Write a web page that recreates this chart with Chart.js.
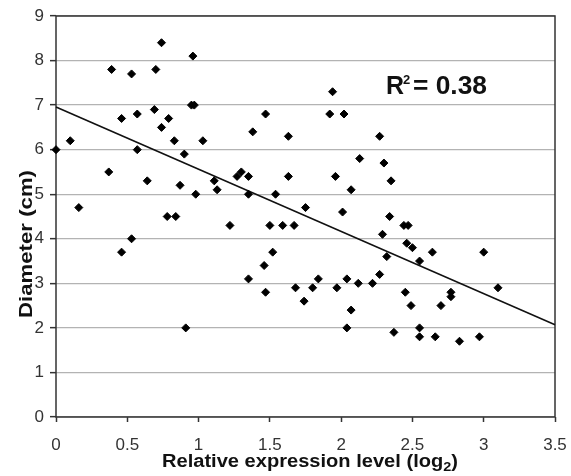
<!DOCTYPE html>
<html>
<head>
<meta charset="utf-8">
<script src="https://cdn.jsdelivr.net/npm/chart.js@4/dist/chart.umd.min.js"></script>
<style>
html,body{margin:0;padding:0;background:#fff;}
#c{display:block;}
</style>
</head>
<body>
<canvas id="c" width="571" height="476" style="width:571px;height:476px"></canvas>
<script>
const xValues = [0,0.1,0.16,0.37,0.39,0.46,0.46,0.53,0.53,0.57,0.57,0.64,0.69,0.70,0.74,0.74,0.78,0.79,0.83,0.84,0.87,0.90,0.91,0.96,0.95,0.97,0.98,1.03,1.11,1.13,1.22,1.27,1.30,1.35,1.35,1.35,1.38,1.46,1.47,1.47,1.50,1.52,1.54,1.59,1.63,1.63,1.67,1.68,1.74,1.75,1.80,1.84,1.92,1.94,1.96,1.97,2.01,2.02,2.04,2.04,2.07,2.07,2.12,2.13,2.22,2.27,2.27,2.29,2.30,2.32,2.34,2.35,2.37,2.44,2.47,2.45,2.46,2.50,2.49,2.55,2.55,2.55,2.64,2.66,2.70,2.77,2.77,2.83,2.97,3.0,3.10];
const yValues = [6.0,6.2,4.7,5.5,7.8,6.7,3.7,7.7,4.0,6.8,6.0,5.3,6.9,7.8,8.4,6.5,4.5,6.7,6.2,4.5,5.2,5.9,2.0,8.1,7.0,7.0,5.0,6.2,5.3,5.1,4.3,5.4,5.5,5.4,5.0,3.1,6.4,3.4,6.8,2.8,4.3,3.7,5.0,4.3,6.3,5.4,4.3,2.9,2.6,4.7,2.9,3.1,6.8,7.3,5.4,2.9,4.6,6.8,3.1,2.0,5.1,2.4,3.0,5.8,3.0,6.3,3.2,4.1,5.7,3.6,4.5,5.3,1.9,4.3,4.3,2.8,3.9,3.8,2.5,3.5,2.0,1.8,3.7,1.8,2.5,2.8,2.7,1.7,1.8,3.7,2.9];
const trendX = [0, 3.5];
const trendY = [6.96, 2.07];
const xTicks = [0,0.5,1,1.5,2,2.5,3,3.5];
const yTicks = [0,1,2,3,4,5,6,7,8,9];
const xTitle = ["Relative expression level (log", "2", ")"];
const yTitle = "Diameter (cm)";
const rsqText = ["R", "2", "= 0.38"];

const FONT = "'Liberation Sans', Arial, sans-serif";

const points = xValues.map((x, i) => ({x: x, y: yValues[i]}));
const trend = trendX.map((x, i) => ({x: x, y: trendY[i]}));

const decor = {
  id: 'decor',
  beforeDatasetsDraw(chart) {
    const {ctx, chartArea: a} = chart;
    ctx.save();
    ctx.strokeStyle = '#333';
    ctx.lineWidth = 1.5;
    ctx.strokeRect(a.left, a.top, a.right - a.left, a.bottom - a.top);
    ctx.restore();
  },
  afterDraw(chart) {
    const ctx = chart.ctx;
    ctx.save();
    ctx.fillStyle = '#111';
    // x title
    ctx.font = "bold 18px " + FONT;
    ctx.textBaseline = 'alphabetic';
    ctx.textAlign = 'left';
    const w1 = ctx.measureText(xTitle[0]).width;
    ctx.font = "bold 13px " + FONT;
    const w2 = ctx.measureText(xTitle[1]).width;
    ctx.font = "bold 18px " + FONT;
    const w3 = ctx.measureText(xTitle[2]).width;
    const total = w1 + w2 + w3;
    const target = 296;
    const sx = target / total;
    ctx.save();
    ctx.translate(162, 467);
    ctx.scale(sx, 1);
    ctx.fillText(xTitle[0], 0, 0);
    ctx.font = "bold 13px " + FONT;
    ctx.fillText(xTitle[1], w1, 4);
    ctx.font = "bold 18px " + FONT;
    ctx.fillText(xTitle[2], w1 + w2, 0);
    ctx.restore();
    // y title
    ctx.save();
    ctx.font = "bold 18px " + FONT;
    const wy = ctx.measureText(yTitle).width;
    ctx.translate(32, 244);
    ctx.rotate(-Math.PI / 2);
    ctx.scale(148 / wy, 1);
    ctx.textAlign = 'center';
    ctx.fillText(yTitle, 0, 0);
    ctx.restore();
    // R^2 annotation
    ctx.save();
    ctx.fillStyle = '#111';
    ctx.font = "bold 25px " + FONT;
    ctx.textAlign = 'left';
    ctx.fillText(rsqText[0], 386, 94);
    ctx.font = "bold 13px " + FONT;
    ctx.fillText(rsqText[1], 403, 84);
    ctx.font = "bold 25px " + FONT;
    const wr = ctx.measureText(rsqText[2]).width;
    ctx.translate(413, 94);
    ctx.scale(74 / wr, 1);
    ctx.fillText(rsqText[2], 0, 0);
    ctx.restore();
    ctx.restore();
  }
};

new Chart(document.getElementById('c'), {
  type: 'scatter',
  data: {
    datasets: [
      {
        data: points,
        pointStyle: 'rectRot',
        pointRadius: 4,
        pointBackgroundColor: '#000',
        pointBorderColor: '#000',
        pointBorderWidth: 1,
        clip: false
      },
      {
        type: 'line',
        data: trend,
        borderColor: '#111',
        borderWidth: 1.6,
        pointRadius: 0,
        fill: false,
        clip: false
      }
    ]
  },
  options: {
    responsive: false,
    animation: false,
    devicePixelRatio: 1,
    layout: {padding: {top: 16, right: 16, left: 0, bottom: 0}},
    plugins: {legend: {display: false}, tooltip: {enabled: false}},
    scales: {
      x: {
        type: 'linear',
        min: 0, max: 3.5,
        afterBuildTicks(scale) { scale.ticks = xTicks.map(v => ({value: v})); },
        afterFit(scale) { scale.height = 59; scale.paddingLeft = 0; scale.paddingRight = 0; },
        grid: {drawOnChartArea: false, tickLength: 5, tickColor: '#333', tickWidth: 1.5},
        border: {display: false},
        ticks: {
          color: '#333',
          font: {family: FONT, size: 17},
          padding: 13,
          maxRotation: 0,
          autoSkip: false,
          callback: v => String(v)
        }
      },
      y: {
        type: 'linear',
        min: 0, max: 9,
        afterBuildTicks(scale) { scale.ticks = yTicks.map(v => ({value: v})); },
        afterFit(scale) { scale.width = 56; scale.paddingTop = 0; scale.paddingBottom = 0; },
        grid: {color: '#b3b3b3', lineWidth: 1.3, tickLength: 6, tickColor: '#333', tickWidth: 1.5},
        border: {display: false},
        ticks: {
          color: '#333',
          font: {family: FONT, size: 17},
          padding: 6,
          autoSkip: false,
          callback: v => String(v)
        }
      }
    }
  },
  plugins: [decor]
});
</script>
</body>
</html>
